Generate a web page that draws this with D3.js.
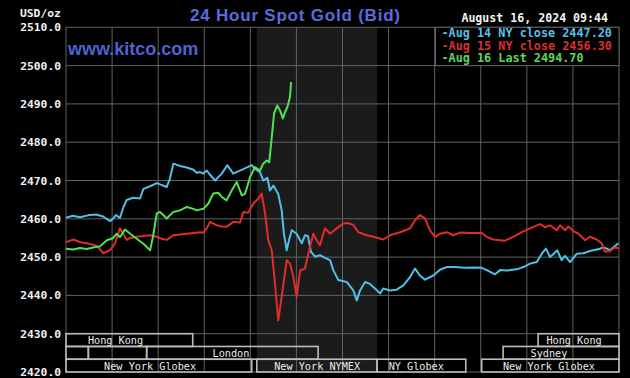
<!DOCTYPE html>
<meta http-equiv="Content-type" content="text/html; charset=UTF-8"/>
<style>
  html, body { margin: 0; padding: 0; background: #000; }
  svg { display: block; }
</style>
<svg width="630" height="378"></svg>
<script src="https://d3js.org/d3.v7.min.js"></script>
<script>
// hours of the day (NY time) and prices
var aug14Hours = [0, 0.3, 0.61, 0.95, 1.3, 1.61, 1.91, 2.04, 2.17, 2.34, 2.49, 2.63, 2.91, 3.21, 3.36, 3.65, 3.94, 4.08, 4.37, 4.51,
  4.66, 4.95, 5.24, 5.53, 5.67, 5.82, 5.96, 6.11, 6.25, 6.47, 6.76, 7.0, 7.26, 7.55, 7.81, 8.06, 8.2, 8.42, 8.56, 8.74,
  8.85, 9.0, 9.21, 9.36, 9.46, 9.58, 9.68, 9.8, 10.01, 10.23, 10.37, 10.5, 10.63, 10.81, 11.02, 11.24, 11.46, 11.6, 11.82, 12.18,
  12.47, 12.62, 12.76, 12.98, 13.19, 13.41, 13.63, 13.77, 14.06, 14.35, 14.64, 14.93, 15.15, 15.36, 15.58, 15.94, 16.23, 16.52, 16.88, 17.32,
  17.75, 18.04, 18.26, 18.62, 18.84, 19.13, 19.56, 19.85, 20.14, 20.43, 20.65, 20.83, 21.01, 21.15, 21.32, 21.51, 21.66, 21.88, 22.17, 22.45,
  22.74, 23.18, 23.32, 23.61, 23.97]
var aug14Prices = [2460.3, 2460.8, 2460.4, 2460.9, 2461.1, 2460.6, 2459.4, 2460.0, 2461.0, 2460.2, 2463.0, 2464.9, 2465.5, 2465.3, 2467.8, 2468.5, 2469.3, 2469.0, 2468.3, 2470.5,
  2474.4, 2473.8, 2473.4, 2472.8, 2472.0, 2472.2, 2471.8, 2472.6, 2471.5, 2470.0, 2471.8, 2474.0, 2471.8, 2472.6, 2473.3, 2474.0, 2473.0, 2472.2, 2470.0, 2470.7,
  2467.4, 2468.7, 2466.5, 2462.2, 2456.0, 2451.8, 2454.5, 2457.0, 2456.1, 2453.6, 2455.7, 2455.5, 2451.4, 2450.1, 2450.5, 2449.8, 2449.2, 2446.6, 2444.0, 2443.5,
  2441.3, 2438.7, 2441.3, 2443.5, 2443.0, 2441.8, 2440.5, 2441.8, 2441.3, 2441.5, 2442.6, 2444.8, 2447.0, 2445.2, 2444.1, 2445.2, 2446.7, 2447.4, 2447.4, 2447.2,
  2447.3, 2447.2, 2446.6, 2445.5, 2446.6, 2446.5, 2446.8, 2447.4, 2448.3, 2448.7, 2450.9, 2452.2, 2450.0, 2450.8, 2451.8, 2449.2, 2450.3, 2448.7, 2450.9, 2451.0,
  2451.6, 2452.2, 2452.6, 2451.8, 2453.6]

var aug15Hours = [0, 0.32, 0.61, 0.9, 1.18, 1.33, 1.62, 1.91, 2.13, 2.34, 2.49, 2.63, 2.78, 3.07, 3.36, 3.65, 3.94, 4.15, 4.37, 4.66,
  4.95, 5.24, 5.53, 5.82, 5.96, 6.11, 6.25, 6.54, 6.76, 6.97, 7.26, 7.55, 7.7, 7.91, 8.13, 8.35, 8.49, 8.64, 8.78, 8.93,
  9.07, 9.21, 9.36, 9.58, 9.72, 9.87, 10.01, 10.16, 10.37, 10.52, 10.73, 10.88, 11.02, 11.24, 11.46, 11.75, 12.04, 12.24, 12.47, 12.69,
  13.05, 13.34, 13.77, 14.06, 14.5, 14.93, 15.15, 15.36, 15.58, 15.8, 16.02, 16.23, 16.52, 16.81, 17.1, 17.53, 18.04, 18.26, 18.54, 19.05,
  19.41, 19.78, 20.14, 20.57, 20.79, 21.01, 21.3, 21.44, 21.66, 21.8, 22.02, 22.24, 22.53, 22.74, 23.03, 23.25, 23.39, 23.61, 23.83, 24]
var aug15Prices = [2453.9, 2454.6, 2453.9, 2453.6, 2453.2, 2453.0, 2451.0, 2451.8, 2453.6, 2457.5, 2456.0, 2454.5, 2455.0, 2455.3, 2455.5, 2455.7, 2455.3, 2454.8, 2454.5, 2455.7,
  2455.9, 2456.1, 2456.3, 2456.5, 2456.4, 2457.5, 2459.2, 2458.3, 2458.0, 2457.9, 2459.2, 2459.0, 2461.8, 2461.6, 2464.0, 2465.3, 2466.6, 2461.4, 2454.4, 2451.8,
  2443.1, 2433.5, 2439.6, 2449.2, 2448.3, 2444.8, 2439.6, 2446.5, 2447.0, 2450.9, 2456.1, 2454.4, 2453.1, 2457.5, 2456.1, 2457.5, 2458.8, 2458.9, 2458.4, 2456.5,
  2455.7, 2455.3, 2454.6, 2455.7, 2456.5, 2457.5, 2459.6, 2461.0, 2460.1, 2457.0, 2455.3, 2456.1, 2456.5, 2455.7, 2456.4, 2456.3, 2456.3, 2455.3, 2454.6, 2454.3,
  2455.3, 2456.5, 2457.5, 2458.6, 2457.8, 2458.3, 2457.0, 2458.3, 2457.0, 2458.0, 2456.8, 2456.1, 2454.4, 2455.3, 2454.6, 2453.6, 2451.4, 2451.6, 2452.5, 2452.3]

var aug16Hours = [0, 0.3, 0.61, 0.9, 1.17, 1.48, 1.77, 2.05, 2.2, 2.34, 2.56, 2.78, 3.07, 3.36, 3.65, 3.78, 3.94, 4.08, 4.22, 4.37,
  4.66, 4.95, 5.24, 5.53, 5.67, 5.96, 6.18, 6.39, 6.61, 6.76, 6.97, 7.19, 7.41, 7.63, 7.77, 7.99, 8.2, 8.42, 8.56, 8.71,
  8.82, 8.93, 9.03, 9.17, 9.29, 9.41, 9.51, 9.61, 9.72, 9.77]
var aug16Prices = [2452.2, 2452.0, 2452.4, 2452.1, 2452.5, 2452.8, 2454.4, 2455.0, 2456.1, 2455.2, 2457.2, 2456.1, 2454.8, 2453.5, 2451.8, 2455.5, 2461.4, 2461.8, 2461.0, 2460.1,
  2461.8, 2462.2, 2463.1, 2462.6, 2462.2, 2462.6, 2464.0, 2466.6, 2466.8, 2465.7, 2464.8, 2467.4, 2469.6, 2466.1, 2466.5, 2470.9, 2473.5, 2472.6, 2474.4, 2475.2,
  2474.8, 2481.3, 2487.5, 2489.6, 2488.3, 2486.2, 2487.9, 2489.2, 2491.8, 2495.7]

var seriesNames = ['Aug 14 NY close 2447.20', 'Aug 15 NY close 2456.30', 'Aug 16 Last 2494.70']
var priceTicks = [2420, 2430, 2440, 2450, 2460, 2470, 2480, 2490, 2500, 2510]
var hourTicks = [0, 2, 4, 6, 8, 10, 12, 14, 16, 18, 20, 22, 24]

// trading sessions: row, start hour, end hour, label, label centre hour
var sessionRows = [0, 0, 1, 1, 1, 1, 2, 2, 2, 2]
var sessionStarts = [0, 20.49, 0, 0.97, 3.5, 18.97, 0, 8.28, 13.5, 18.04]
var sessionEnds = [5.5, 24, 0.97, 3.5, 10.94, 24, 8.06, 13.5, 17.35, 24]
var sessionLabels = ['Hong Kong', 'Hong Kong', '', '', 'London', 'Sydney', 'New York Globex', 'New York NYMEX', 'NY Globex', 'New York Globex']
var sessionLabelHours = [2.15, 22.05, 0, 0, 7.16, 20.96, 3.65, 10.9, 15.2, 20.96]
var nymexHours = [8.28, 13.5]

var colors = ['#4fc1e9', '#e22b2b', '#4fe34f']
var legendColors = ['#5cbde6', '#d92f2f', '#5cd65c']

var svg = d3.select('svg')
var mono = "'DejaVu Sans Mono', monospace"

var x = d3.scaleLinear().domain([0, 24]).range([66, 619])
var y = d3.scaleLinear().domain([2420, 2510]).range([372, 27.3])

svg.append('rect').attr('width', 630).attr('height', 378).attr('fill', '#000')

// NYMEX shading
svg.append('rect')
  .attr('x', x(nymexHours[0]))
  .attr('y', y(2510))
  .attr('width', x(nymexHours[1]) - x(nymexHours[0]))
  .attr('height', y(2420) - y(2510))
  .attr('fill', '#1b1b1b')

// grid
svg.append('g').selectAll('line').data(hourTicks).join('line')
  .attr('x1', d => x(d)).attr('x2', d => x(d))
  .attr('y1', y(2510)).attr('y2', y(2420))
  .attr('stroke', '#626262').attr('stroke-width', 1)

svg.append('g').selectAll('line').data(priceTicks).join('line')
  .attr('x1', x(0)).attr('x2', x(24))
  .attr('y1', d => y(d)).attr('y2', d => y(d))
  .attr('stroke', '#626262').attr('stroke-width', 1)

// price labels
svg.append('g').selectAll('text').data(priceTicks).join('text')
  .attr('x', 61)
  .attr('y', d => y(d) + 4)
  .attr('text-anchor', 'end')
  .attr('fill', '#f2f2f2')
  .style('font-family', mono)
  .style('font-weight', 'bold')
  .style('font-size', '11.3px')
  .text(d => d.toFixed(1))

svg.append('text')
  .attr('x', 20).attr('y', 17)
  .attr('fill', '#f2f2f2')
  .style('font-family', mono)
  .style('font-weight', 'bold')
  .style('font-size', '11.3px')
  .text('USD/oz')

// session boxes
var rowHeight = (y(2420) - y(2430)) / 3
var sessions = sessionRows.map((r, i) => ({
  row: r, start: sessionStarts[i], end: sessionEnds[i],
  label: sessionLabels[i], labelHour: sessionLabelHours[i]
}))

svg.append('g').selectAll('rect').data(sessions).join('rect')
  .attr('x', d => x(d.start))
  .attr('y', d => y(2430) + d.row * rowHeight)
  .attr('width', d => x(d.end) - x(d.start))
  .attr('height', rowHeight)
  .attr('fill', 'none')
  .attr('stroke', '#bdbdb5')
  .attr('stroke-width', 1.6)

svg.append('g').selectAll('text').data(sessions).join('text')
  .attr('x', d => x(d.labelHour))
  .attr('y', d => y(2430) + (d.row + 1) * rowHeight - 2.5)
  .attr('text-anchor', 'middle')
  .attr('fill', '#ececec')
  .style('font-family', mono)
  .style('font-size', '10.2px')
  .text(d => d.label)

// price lines
var line = d3.line()
  .x(d => x(d[0]))
  .y(d => y(d[1]))

var series = [
  d3.zip(aug14Hours, aug14Prices),
  d3.zip(aug15Hours, aug15Prices),
  d3.zip(aug16Hours, aug16Prices)
]

svg.append('g').selectAll('path').data(series).join('path')
  .attr('d', line)
  .attr('fill', 'none')
  .attr('stroke', (d, i) => colors[i])
  .attr('stroke-width', 2)
  .attr('stroke-linejoin', 'round')

// legend
svg.append('rect')
  .attr('x', 435.5).attr('y', y(2510))
  .attr('width', x(24) - 435.5)
  .attr('height', y(2500) - y(2510))
  .attr('fill', '#000')
  .attr('stroke', '#626262')

svg.append('g').selectAll('text').data(seriesNames).join('text')
  .attr('x', 441.5)
  .attr('y', (d, i) => 37 + i * 12.6)
  .attr('fill', (d, i) => legendColors[i])
  .style('font-family', mono)
  .style('font-weight', 'bold')
  .style('font-size', '11.8px')
  .text(d => '-' + d)

// titles
svg.append('text')
  .attr('x', 190).attr('y', 21)
  .attr('fill', '#5a6bdc')
  .attr('textLength', 210)
  .attr('lengthAdjust', 'spacing')
  .style('font-family', "'Liberation Sans', Arial, sans-serif")
  .style('font-weight', 'bold')
  .style('font-size', '17px')
  .text('24 Hour Spot Gold (Bid)')

svg.append('text')
  .attr('x', 68).attr('y', 55)
  .attr('fill', '#5062d2')
  .style('font-family', "'Liberation Sans', Arial, sans-serif")
  .style('font-weight', 'bold')
  .style('font-size', '18px')
  .text('www.kitco.com')

svg.append('text')
  .attr('x', 608).attr('y', 22)
  .attr('text-anchor', 'end')
  .attr('fill', '#f2f2f2')
  .style('font-family', mono)
  .style('font-weight', 'bold')
  .style('font-size', '11.6px')
  .text('August 16, 2024 09:44')
</script>
